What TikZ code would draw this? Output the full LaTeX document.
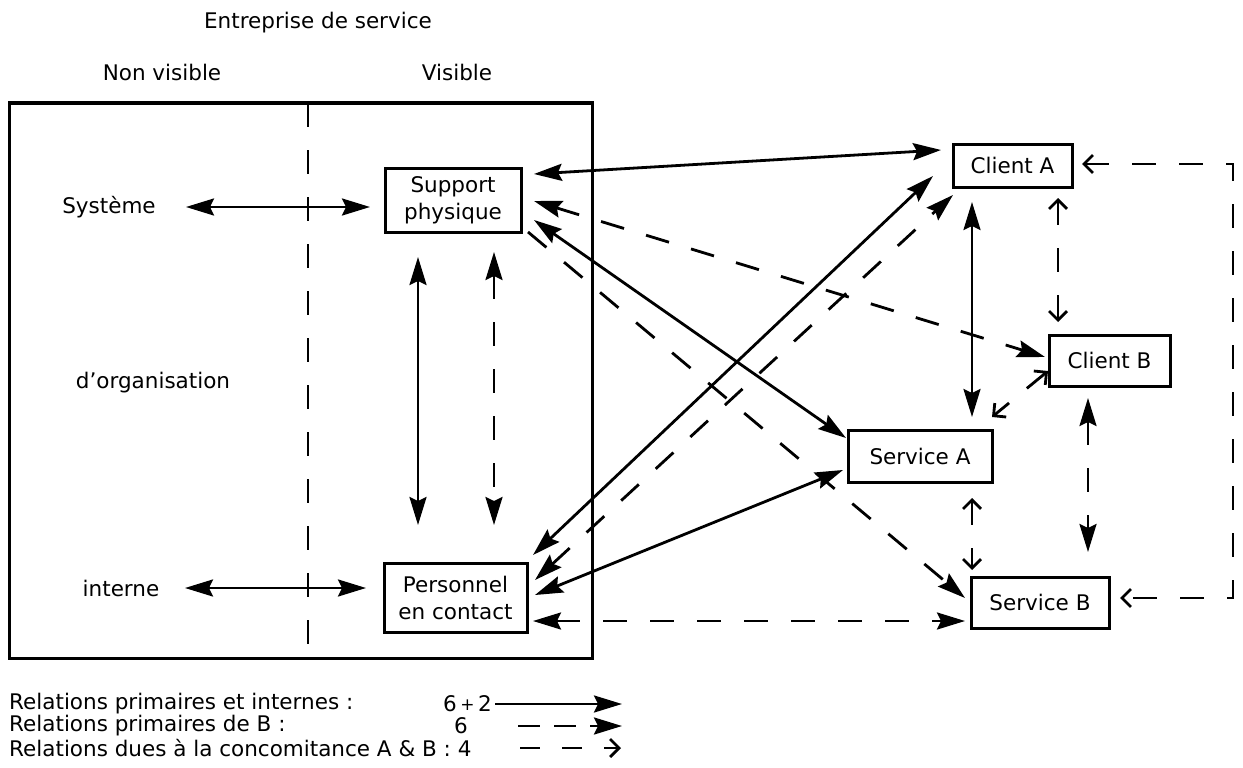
\documentclass[tikz,border=0pt]{standalone}
\usepackage{fontspec}
\setmainfont{DejaVu Sans}
\usetikzlibrary{arrows.meta,calc}
\begin{document}
\begin{tikzpicture}[x=1pt,y=-1pt,
  every node/.style={font=\fontsize{21.5}{27}\selectfont, inner sep=0pt},
  box/.style={draw, line width=3pt, outer sep=0pt, align=center},
  sol/.style={line width=2.8pt},
  dsh/.style={line width=2.8pt, dash pattern=on 24pt off 23pt},
  BT/.tip={Stealth[length=28pt,width=17pt,inset=4pt]},
  OT/.tip={Straight Barb[length=9pt,width=18pt,line width=2.8pt]}]
\useasboundingbox (0,0) rectangle (1243,768);

% headings
\node (title) at (318,23) {Entreprise de service};
\node (nv) at (162,72) {Non visible};
\node (vis) at (457,72) {Visible};

% enterprise frame
\node[draw, line width=3pt, outer sep=0pt, minimum width=583pt, minimum height=555pt] (ent) at (300.5,380.5) {};
\draw[dsh] ($(ent.north west)+(299,0)$) -- ($(ent.south west)+(299,0)$);

% left labels
\node (sys) at (109,207) {Système};
\node (org) at (153,383) {d'organisation};
\node (int) at (121,588) {interne};

% boxes
\node[box, minimum width=136pt, minimum height=64pt] (sp) at (453,200) {Support\\physique};
\node[box, minimum width=143pt, minimum height=69pt] (pc) at (455.5,597.5) {Personnel\\en contact};
\node[box, minimum width=119pt, minimum height=43pt] (ca) at (1012.5,165.5) {Client A};
\node[box, minimum width=121pt, minimum height=51pt] (cb) at (1109.5,360.5) {Client B};
\node[box, minimum width=144pt, minimum height=52pt] (sa) at (920,456) {Service A};
\node[box, minimum width=138pt, minimum height=51pt] (sb) at (1040,602.5) {Service B};

% internal relations
\draw[sol,BT-BT] ($(sys.center)+(77,0)$) -- ($(sys.center -| sp.west)+(-15,0)$);
\draw[sol,BT-BT] ($(int.center)+(64,0)$) -- ($(int.center -| pc.west)+(-18,0)$);
\draw[sol,BT-BT] ($(sp.south)+(-35,25)$) -- ($(pc.north)+(-37.5,-38)$);
\draw[dsh,BT-BT] ($(sp.south)+(41,20)$) -- ($(pc.north)+(38.5,-38)$);

% support physique relations
\draw[sol,BT-BT] ($(sp.east)+(13,-26)$) -- ($(ca.west)+(-12,-15.5)$);
\draw[dsh,BT-BT] ($(sp.east)+(13,1)$) -- ($(cb.west)+(-4,-3.5)$);
\draw[sol,BT-BT] ($(sp.east)+(13,20)$) -- ($(sa.west)+(-2,-18)$);
\draw[dsh,-BT] ($(sp.south east)+(7,0)$) -- ($(sb.west)+(-6,-4.5)$);

% personnel relations
\draw[sol,BT-BT] ($(pc.east)+(6,-42.5)$) -- ($(ca.west)+(-20,10.5)$);
\draw[dsh,BT-BT] ($(pc.east)+(8,-17.5)$) -- ($(ca.south west)+(0,8)$);
\draw[sol,BT-BT] ($(pc.east)+(8,-2.5)$) -- ($(sa.west)+(-5,14)$);
\draw[dsh,BT-BT] ($(pc.east)+(6,23.5)$) -- ($(sb.west)+(-6,18.5)$);

% client / service relations
\draw[sol,BT-BT] ($(ca.south west)+(19,15)$) -- ($(sa.north east)+(-20,-13)$);
\draw[dsh,BT-BT] ($(cb.south)+(-21.5,12)$) -- ($(sb.north)+(48,-25)$);
\draw[dsh,OT-OT] ($(ca.south)+(45.5,11)$) -- ($(cb.north west)+(9,-13)$);
\draw[dsh,OT-OT] ($(cb.south west)+(-1,-15)$) -- ($(sa.north east)+(0,-13)$);
\draw[dsh,OT-OT] ($(sa.south east)+(-20,16)$) -- ($(sb.north west)+(1,-7)$);
\draw[dsh,OT-OT] ($(ca.east)+(10,-1.5)$) -- ++(151,0) |- ($(sb.east)+(11,-4.5)$);

% legend
\node[anchor=west] (l1) at (9,704) {Relations primaires et internes :};
\node[anchor=east] (n1) at (492,704) {6\,\raisebox{1.5pt}{\fontsize{17}{17}\selectfont+}\,2};
\node[anchor=west] (l2) at (9,726) {Relations primaires de B :};
\node (n2) at (461,726) {6};
\node[anchor=west] (l3) at (9,748) {Relations dues à la concomitance A \& B : 4};
\draw[sol,-BT] ($(n1.east)+(3,0)$) -- ($(n1.east)+(130,0)$);
\draw[line width=2.8pt, dash pattern=on 22pt off 14pt,-BT] ($(n2.center)+(57,0)$) -- ($(n2.center)+(161,0)$);
\draw[line width=2.8pt, dash pattern=on 20pt off 22pt,-OT] (520,748) -- (621,748);
\end{tikzpicture}
\end{document}
